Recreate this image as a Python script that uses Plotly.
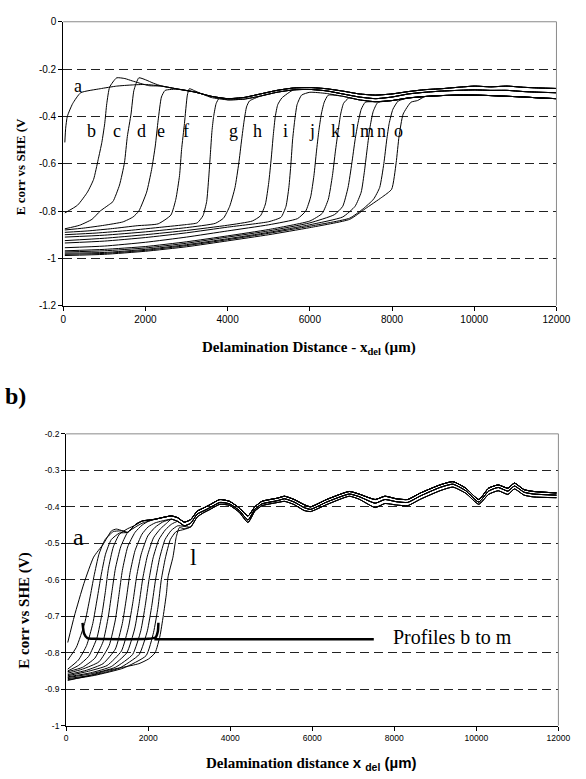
import plotly.graph_objects as go

# ---------------- Panel (a) : axes ----------------
top_x_ticks = [0, 2000, 4000, 6000, 8000, 10000, 12000]
top_x_text = ["0", "2000", "4000", "6000", "8000", "10000", "12000"]
top_y_ticks = [0, -0.2, -0.4, -0.6, -0.8, -1.0, -1.2]
top_y_text = ["0", "-0.2", "-0.4", "-0.6", "-0.8", "-1", "-1.2"]

# shared passive (upper) profiles read from the bundle, panel (a)
top_hi_x = [2400, 2800, 3200, 3600, 4000, 4400, 4800, 5200, 5600, 6000, 6400, 6800, 7200, 7600, 8000, 8400, 8800, 9200, 9600, 10000, 10400, 10800, 11200, 11600, 12000]
top_hi_y = [-0.272, -0.285, -0.297, -0.315, -0.325, -0.32, -0.305, -0.29, -0.28, -0.278, -0.283, -0.293, -0.305, -0.31, -0.305, -0.295, -0.287, -0.283, -0.277, -0.272, -0.275, -0.272, -0.277, -0.28, -0.282]
top_mid_x = [3600, 4000, 4400, 4800, 5200, 5600, 6000, 6400, 6800, 7200, 7600, 8000, 8400, 8800, 9200, 9600, 10000, 10400, 10800, 11200, 11600, 12000]
top_mid_y = [-0.32, -0.33, -0.327, -0.314, -0.298, -0.288, -0.286, -0.292, -0.305, -0.318, -0.325, -0.318, -0.305, -0.298, -0.293, -0.29, -0.288, -0.29, -0.29, -0.295, -0.298, -0.30]
top_lo_x = [6000, 6400, 6800, 7200, 7600, 8000, 8400, 8800, 9200, 9600, 10000, 10400, 10800, 11200, 11600, 12000]
top_lo_y = [-0.298, -0.303, -0.315, -0.33, -0.338, -0.333, -0.322, -0.316, -0.312, -0.31, -0.31, -0.312, -0.315, -0.318, -0.322, -0.325]

# individual profiles a..o (active part + front), panel (a)
ta_x = [40, 60, 100, 230, 425, 900, 1300, 1680, 2000]
ta_y = [-0.51, -0.45, -0.40, -0.346, -0.30, -0.283, -0.272, -0.267, -0.265]
tb_x = [40, 350, 590, 740, 850, 940, 1010, 1060, 1130, 1300, 1500, 1680, 2080]
tb_y = [-0.808, -0.775, -0.72, -0.666, -0.583, -0.51, -0.43, -0.346, -0.276, -0.237, -0.24, -0.25, -0.27]
tc_x = [40, 400, 700, 900, 1100, 1210, 1370, 1490, 1560, 1650, 1720, 1840, 2000, 2200]
tc_y = [-0.875, -0.86, -0.835, -0.80, -0.775, -0.76, -0.69, -0.596, -0.485, -0.39, -0.29, -0.237, -0.245, -0.26]
td_x = [40, 500, 1000, 1450, 1700, 1840, 2030, 2150, 2240, 2310, 2390, 2480]
td_y = [-0.88, -0.872, -0.86, -0.846, -0.825, -0.80, -0.72, -0.625, -0.525, -0.416, -0.318, -0.29]
te_x = [40, 600, 1200, 1800, 2310, 2620, 2740, 2830, 2880, 2950, 3020, 3070, 3200]
te_y = [-0.89, -0.884, -0.874, -0.862, -0.854, -0.817, -0.75, -0.65, -0.54, -0.43, -0.31, -0.283, -0.292]
tf_x = [40, 800, 1600, 2400, 3000, 3260, 3400, 3490, 3540, 3580, 3620, 3660, 3720, 3800]
tf_y = [-0.90, -0.893, -0.882, -0.868, -0.857, -0.85, -0.82, -0.76, -0.66, -0.56, -0.46, -0.40, -0.346, -0.322]
tg_x = [40, 1000, 2000, 3000, 3700, 3900, 4050, 4180, 4270, 4340, 4400, 4460, 4530]
tg_y = [-0.91, -0.902, -0.888, -0.87, -0.852, -0.83, -0.78, -0.70, -0.60, -0.50, -0.42, -0.36, -0.335]
th_x = [40, 1000, 2000, 3000, 4000, 4600, 4800, 4920, 5000, 5060, 5110, 5160, 5220, 5320]
th_y = [-0.925, -0.915, -0.9, -0.882, -0.86, -0.842, -0.82, -0.77, -0.68, -0.58, -0.48, -0.40, -0.35, -0.322]
ti_x = [40, 1000, 2000, 3000, 4000, 5000, 5300, 5420, 5490, 5540, 5580, 5630, 5690, 5800]
ti_y = [-0.935, -0.927, -0.912, -0.892, -0.868, -0.845, -0.826, -0.78, -0.70, -0.60, -0.50, -0.42, -0.35, -0.31]
tj_x = [40, 1000, 2000, 3000, 4000, 5000, 5700, 5900, 6020, 6100, 6160, 6220, 6280, 6350, 6450]
tj_y = [-0.955, -0.948, -0.932, -0.91, -0.884, -0.858, -0.832, -0.80, -0.74, -0.65, -0.55, -0.46, -0.39, -0.34, -0.31]
tk_x = [40, 1000, 2000, 3000, 4000, 5000, 6000, 6300, 6450, 6550, 6620, 6690, 6750, 6820, 6950]
tk_y = [-0.968, -0.962, -0.95, -0.93, -0.905, -0.878, -0.842, -0.81, -0.75, -0.65, -0.55, -0.46, -0.39, -0.345, -0.322]
tl_x = [40, 1000, 2000, 3000, 4000, 5000, 6000, 6600, 6800, 6930, 7020, 7100, 7170, 7250, 7350]
tl_y = [-0.973, -0.968, -0.956, -0.936, -0.91, -0.884, -0.85, -0.815, -0.78, -0.70, -0.60, -0.50, -0.43, -0.37, -0.34]
tm_x = [40, 1000, 2000, 3000, 4000, 5000, 6000, 6800, 7100, 7250, 7330, 7400, 7460, 7540, 7650]
tm_y = [-0.978, -0.975, -0.962, -0.942, -0.917, -0.89, -0.858, -0.825, -0.78, -0.72, -0.63, -0.53, -0.45, -0.38, -0.342]
tn_x = [40, 1000, 2000, 3000, 4000, 5000, 6000, 6970, 7300, 7550, 7700, 7800, 7870, 7930, 8020, 8150]
tn_y = [-0.983, -0.979, -0.966, -0.946, -0.921, -0.894, -0.864, -0.83, -0.79, -0.75, -0.70, -0.60, -0.50, -0.43, -0.37, -0.335]
to_x = [40, 1000, 2000, 3000, 4000, 5000, 6000, 6970, 7350, 7750, 7990, 8100, 8170, 8270, 8460, 8620]
to_y = [-0.988, -0.983, -0.97, -0.951, -0.926, -0.9, -0.87, -0.835, -0.79, -0.742, -0.708, -0.596, -0.485, -0.39, -0.34, -0.333]

top_labels = ["a", "b", "c", "d", "e", "f", "g", "h", "i", "j", "k", "l", "m", "n", "o"]
top_label_x = [354, 685, 1299, 1913, 2385, 2976, 4134, 4724, 5409, 6047, 6614, 7063, 7394, 7748, 8150]
top_label_y = [-0.271, -0.4625, -0.4625, -0.4625, -0.4625, -0.4625, -0.4625, -0.4625, -0.4625, -0.4625, -0.4625, -0.4625, -0.4625, -0.4625, -0.4625]

# ---------------- Panel (b) ----------------
bot_x_ticks = [0, 2000, 4000, 6000, 8000, 10000, 12000]
bot_x_text = ["0", "2000", "4000", "6000", "8000", "10000", "12000"]
bot_y_ticks = [-0.2, -0.3, -0.4, -0.5, -0.6, -0.7, -0.8, -0.9, -1.0]
bot_y_text = ["-0.2", "-0.3", "-0.4", "-0.5", "-0.6", "-0.7", "-0.8", "-0.9", "-1"]

bot_top_x = [1381, 1499, 1696, 1854, 2170, 2564, 2722, 2880, 3037, 3195, 3353, 3510, 3747, 3984, 4220, 4433, 4600, 4773, 5160, 5325, 5560, 5800, 5957, 6350, 6903, 7140, 7534, 7770, 8050, 8323, 8639, 9112, 9428, 9744, 10059, 10296, 10533, 10769, 10927, 11163, 11400, 11953]
bot_top_y = [-0.466, -0.47, -0.448, -0.439, -0.434, -0.425, -0.43, -0.442, -0.435, -0.412, -0.403, -0.394, -0.38, -0.385, -0.403, -0.425, -0.40, -0.385, -0.376, -0.371, -0.38, -0.394, -0.40, -0.38, -0.358, -0.365, -0.38, -0.371, -0.378, -0.38, -0.362, -0.34, -0.331, -0.349, -0.38, -0.349, -0.34, -0.349, -0.335, -0.353, -0.358, -0.362]
bot_mid_x = [2564, 2722, 2880, 3037, 3195, 3353, 3510, 3747, 3984, 4220, 4433, 4600, 4773, 5160, 5325, 5560, 5800, 5957, 6350, 6903, 7140, 7534, 7770, 8050, 8323, 8639, 9112, 9428, 9744, 10059, 10296, 10533, 10769, 10927, 11163, 11400, 11953]
bot_mid_y = [-0.434, -0.44, -0.452, -0.445, -0.42, -0.411, -0.402, -0.388, -0.392, -0.41, -0.436, -0.407, -0.392, -0.383, -0.378, -0.387, -0.402, -0.407, -0.387, -0.365, -0.372, -0.39, -0.38, -0.386, -0.388, -0.37, -0.347, -0.338, -0.356, -0.387, -0.357, -0.347, -0.357, -0.343, -0.36, -0.365, -0.368]
bot_low_x = [3037, 3195, 3353, 3510, 3747, 3984, 4220, 4433, 4600, 4773, 5160, 5325, 5560, 5800, 5957, 6350, 6903, 7140, 7534, 7770, 8050, 8323, 8639, 9112, 9428, 9744, 10059, 10296, 10533, 10769, 10927, 11163, 11400, 11953]
bot_low_y = [-0.455, -0.428, -0.416, -0.407, -0.393, -0.396, -0.415, -0.443, -0.412, -0.397, -0.388, -0.385, -0.394, -0.41, -0.413, -0.394, -0.371, -0.379, -0.402, -0.391, -0.395, -0.397, -0.379, -0.356, -0.346, -0.363, -0.393, -0.366, -0.356, -0.366, -0.351, -0.368, -0.373, -0.375]

ba_x = [40, 200, 434, 670, 907, 1105, 1223]
ba_y = [-0.772, -0.70, -0.61, -0.538, -0.502, -0.466, -0.461]
bb_x = [40, 250, 450, 580, 680, 800, 950, 1150, 1300]
bb_y = [-0.82, -0.785, -0.72, -0.65, -0.59, -0.53, -0.49, -0.468, -0.466]
bc_x = [40, 300, 500, 650, 760, 850, 960, 1100, 1300, 1499]
bc_y = [-0.845, -0.82, -0.78, -0.72, -0.65, -0.59, -0.53, -0.49, -0.472, -0.47]
bd_x = [40, 300, 550, 750, 880, 960, 1030, 1150, 1300, 1500, 1696]
bd_y = [-0.85, -0.835, -0.81, -0.76, -0.69, -0.63, -0.57, -0.51, -0.475, -0.46, -0.45]
be_x = [40, 400, 700, 900, 1030, 1120, 1200, 1330, 1500, 1696, 1854]
be_y = [-0.852, -0.84, -0.815, -0.77, -0.70, -0.63, -0.57, -0.51, -0.47, -0.455, -0.445]
bf_x = [40, 400, 800, 1050, 1200, 1290, 1370, 1500, 1680, 1854, 2000]
bf_y = [-0.856, -0.845, -0.825, -0.78, -0.71, -0.64, -0.575, -0.51, -0.47, -0.45, -0.44]
bg_x = [40, 500, 900, 1200, 1370, 1470, 1560, 1680, 1850, 2000, 2170]
bg_y = [-0.86, -0.848, -0.83, -0.79, -0.72, -0.65, -0.58, -0.52, -0.475, -0.455, -0.444]
bh_x = [40, 500, 1000, 1350, 1520, 1630, 1720, 1830, 1990, 2170, 2350]
bh_y = [-0.863, -0.852, -0.835, -0.795, -0.73, -0.66, -0.59, -0.53, -0.48, -0.456, -0.442]
bi_x = [40, 600, 1100, 1480, 1670, 1780, 1870, 1980, 2130, 2300, 2450]
bi_y = [-0.866, -0.855, -0.838, -0.80, -0.735, -0.665, -0.595, -0.535, -0.485, -0.46, -0.445]
bj_x = [40, 600, 1200, 1620, 1820, 1930, 2020, 2120, 2260, 2420, 2564]
bj_y = [-0.868, -0.858, -0.84, -0.805, -0.74, -0.67, -0.60, -0.54, -0.49, -0.463, -0.448]
bk_x = [40, 700, 1300, 1780, 1980, 2090, 2180, 2280, 2410, 2560, 2722]
bk_y = [-0.871, -0.86, -0.842, -0.805, -0.74, -0.67, -0.60, -0.54, -0.49, -0.465, -0.452]
bl_x = [40, 700, 1400, 1950, 2130, 2240, 2320, 2420, 2540, 2680, 2880]
bl_y = [-0.874, -0.862, -0.842, -0.808, -0.745, -0.675, -0.60, -0.54, -0.49, -0.468, -0.462]
bm_x = [40, 590, 987, 1381, 1775, 2012, 2170, 2288, 2367, 2446, 2485, 2604, 2682, 2761, 2880]
bm_y = [-0.876, -0.862, -0.849, -0.84, -0.83, -0.817, -0.80, -0.754, -0.70, -0.637, -0.592, -0.538, -0.484, -0.457, -0.46]

bracket_x = [400, 440, 520, 700, 2000, 2180, 2235, 2250]
bracket_y = [-0.718, -0.748, -0.760, -0.762, -0.762, -0.758, -0.742, -0.718]
pointer_x = [2150, 7500]
pointer_y = [-0.763, -0.763]


def join(own_x, own_y, prof_x, prof_y):
    last = own_x[-1]
    xs = list(own_x) + [x for x in prof_x if x > last]
    ys = list(own_y) + [y for x, y in zip(prof_x, prof_y) if x > last]
    return xs, ys


fig = go.Figure()
line = dict(color="black", width=1, shape="spline", smoothing=0.5)

top_sets = [
    (ta_x, ta_y, top_hi_x, top_hi_y), (tb_x, tb_y, top_hi_x, top_hi_y),
    (tc_x, tc_y, top_hi_x, top_hi_y), (td_x, td_y, top_hi_x, top_hi_y),
    (te_x, te_y, top_mid_x, top_mid_y), (tf_x, tf_y, top_mid_x, top_mid_y),
    (tg_x, tg_y, top_mid_x, top_mid_y), (th_x, th_y, top_mid_x, top_mid_y),
    (ti_x, ti_y, top_lo_x, top_lo_y), (tj_x, tj_y, top_lo_x, top_lo_y),
    (tk_x, tk_y, top_lo_x, top_lo_y), (tl_x, tl_y, top_lo_x, top_lo_y),
    (tm_x, tm_y, top_lo_x, top_lo_y), (tn_x, tn_y, top_lo_x, top_lo_y),
    (to_x, to_y, top_lo_x, top_lo_y),
]
for ox, oy, px, py in top_sets:
    xs, ys = join(ox, oy, px, py)
    fig.add_trace(go.Scatter(x=xs, y=ys, mode="lines", line=line, xaxis="x", yaxis="y",
                             showlegend=False, hoverinfo="skip"))

bot_sets = [
    (ba_x, ba_y, bot_top_x, bot_top_y), (bb_x, bb_y, bot_top_x, bot_top_y),
    (bc_x, bc_y, bot_top_x, bot_top_y), (bd_x, bd_y, bot_top_x, bot_top_y),
    (be_x, be_y, bot_top_x, bot_top_y), (bf_x, bf_y, bot_top_x, bot_top_y),
    (bg_x, bg_y, bot_mid_x, bot_mid_y), (bh_x, bh_y, bot_mid_x, bot_mid_y),
    (bi_x, bi_y, bot_mid_x, bot_mid_y), (bj_x, bj_y, bot_mid_x, bot_mid_y),
    (bk_x, bk_y, bot_low_x, bot_low_y), (bl_x, bl_y, bot_low_x, bot_low_y),
    (bm_x, bm_y, bot_low_x, bot_low_y),
]
for ox, oy, px, py in bot_sets:
    xs, ys = join(ox, oy, px, py)
    fig.add_trace(go.Scatter(x=xs, y=ys, mode="lines", line=line, xaxis="x2", yaxis="y2",
                             showlegend=False, hoverinfo="skip"))

fig.add_trace(go.Scatter(x=bracket_x, y=bracket_y, mode="lines",
                         line=dict(color="black", width=2.5, shape="spline", smoothing=0.6),
                         xaxis="x2", yaxis="y2", showlegend=False, hoverinfo="skip"))
fig.add_trace(go.Scatter(x=pointer_x, y=pointer_y, mode="lines",
                         line=dict(color="black", width=2.5),
                         xaxis="x2", yaxis="y2", showlegend=False, hoverinfo="skip"))

W, H = 586, 779
t_l, t_r, t_t, t_b = 62, 570, 17, 305
b_l, b_r, b_t, b_b = 65, 572, 435, 731

axis_common = dict(showline=True, linecolor="black", linewidth=1, ticks="outside",
                   ticklen=4, tickcolor="black", zeroline=False, fixedrange=True)
grid = dict(showgrid=True, gridcolor="#222222", gridwidth=1, griddash="9px,5px")

fig.update_layout(
    width=W, height=H, autosize=False,
    margin=dict(l=0, r=0, t=0, b=0),
    paper_bgcolor="white", plot_bgcolor="white",
    xaxis=dict(domain=[t_l / W, t_r / W], anchor="y", range=[0, 12000],
               tickvals=top_x_ticks, ticktext=top_x_text, showgrid=False,
               tickfont=dict(family="Arial", size=10, color="black"), **axis_common),
    yaxis=dict(domain=[1 - t_b / H, 1 - t_t / H], anchor="x", range=[-1.2, 0],
               tickvals=top_y_ticks, ticktext=top_y_text,
               tickfont=dict(family="Arial", size=10, color="black"), **grid, **axis_common),
    xaxis2=dict(domain=[b_l / W, b_r / W], anchor="y2", range=[0, 12000],
                tickvals=bot_x_ticks, ticktext=bot_x_text, showgrid=False,
                tickfont=dict(family="Arial", size=8.5, color="black"), **axis_common),
    yaxis2=dict(domain=[1 - b_b / H, 1 - b_t / H], anchor="x2", range=[-1.0, -0.2],
                tickvals=bot_y_ticks, ticktext=bot_y_text,
                tickfont=dict(family="Arial", size=8.5, color="black"), **grid, **axis_common),
)

# gray top/right frame of each plot area
for (l, r, t, b) in [(t_l, t_r, t_t, t_b), (b_l, b_r, b_t, b_b)]:
    fig.add_shape(type="line", xref="paper", yref="paper", x0=l / W, x1=r / W,
                  y0=1 - t / H, y1=1 - t / H, line=dict(color="#8a8a8a", width=1), layer="above")
    fig.add_shape(type="line", xref="paper", yref="paper", x0=r / W, x1=r / W,
                  y0=1 - t / H, y1=1 - b / H, line=dict(color="#8a8a8a", width=1), layer="above")

serif = "Liberation Serif"
ann = []
for lab, lx, ly in zip(top_labels, top_label_x, top_label_y):
    ann.append(dict(x=lx, y=ly, xref="x", yref="y", text=lab, showarrow=False,
                    font=dict(family=serif, size=18, color="black"),
                    xanchor="center", yanchor="middle"))
ann.append(dict(x=308, y=-0.484, xref="x2", yref="y2", text="a", showarrow=False,
                font=dict(family=serif, size=24, color="black"), xanchor="center", yanchor="middle"))
ann.append(dict(x=3100, y=-0.538, xref="x2", yref="y2", text="l", showarrow=False,
                font=dict(family=serif, size=24, color="black"), xanchor="center", yanchor="middle"))
ann.append(dict(x=7929, y=-0.757, xref="x2", yref="y2", text="Profiles b to m", showarrow=False,
                font=dict(family=serif, size=20, color="black"), xanchor="left", yanchor="middle"))
# axis titles
ann.append(dict(x=315 / W, y=1 - 348 / H, xref="paper", yref="paper",
                text="<b>Delamination Distance - x<sub>del</sub> (µm)</b>", showarrow=False,
                font=dict(family=serif, size=15, color="black"), xanchor="center", yanchor="middle"))
ann.append(dict(x=18 / W, y=1 - 164 / H, xref="paper", yref="paper",
                text="<b>E corr vs SHE (V</b>", showarrow=False, textangle=-90,
                font=dict(family=serif, size=13, color="black"), xanchor="center", yanchor="middle"))
ann.append(dict(x=318 / W, y=1 - 769 / H, xref="paper", yref="paper",
                text="<b>Delamination distance </b><span style='font-family:Arial'><b>x <sub>del</sub> (µm)</b></span>",
                showarrow=False,
                font=dict(family=serif, size=15, color="black"), xanchor="center", yanchor="middle"))
ann.append(dict(x=22 / W, y=1 - 614 / H, xref="paper", yref="paper",
                text="<b>E corr vs SHE (V)</b>", showarrow=False, textangle=-90,
                font=dict(family=serif, size=15, color="black"), xanchor="center", yanchor="middle"))
ann.append(dict(x=0, y=1 - 397 / H, xref="paper", yref="paper",
                text="<b>b)</b>", showarrow=False,
                font=dict(family=serif, size=24, color="black"), xanchor="left", yanchor="middle"))
fig.update_layout(annotations=ann)

fig.write_html("out.html", config={"displayModeBar": False},
               post_script="document.body.style.margin='0';document.body.style.overflow='hidden';")
